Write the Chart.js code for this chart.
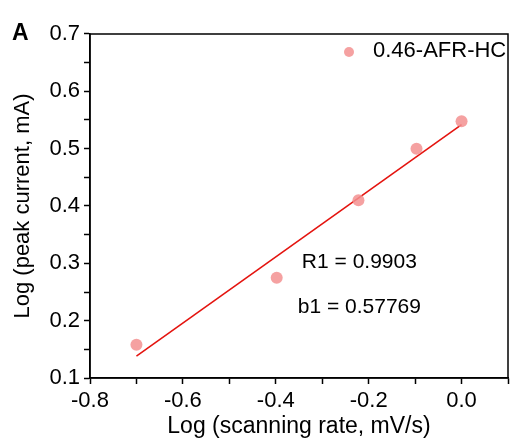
<!DOCTYPE html>
<html>
<head>
<meta charset="utf-8">
<script src="https://cdn.jsdelivr.net/npm/chart.js@4.4.0/dist/chart.umd.min.js"></script>
<style>
  html, body { margin: 0; padding: 0; background: #fff; }
</style>
</head>
<body>
<canvas id="chart" width="514" height="440"></canvas>
<script>
// data
const scanRate = [-0.70, -0.398, -0.222, -0.097, 0.0];     // Log (scanning rate)
const peakCurrent = [0.158, 0.275, 0.410, 0.500, 0.548];   // Log (peak current)
const fitX = [-0.70, 0.0];
const fitY = [0.138, 0.542];
const seriesName = '0.46-AFR-HC';
const notes = ['R1 = 0.9903', 'b1 = 0.57769'];
const xTicks = [-0.8, -0.6, -0.4, -0.2, 0.0];
const yTicks = [0.1, 0.2, 0.3, 0.4, 0.5, 0.6, 0.7];

const FONT = "'Liberation Sans', Arial, sans-serif";
const pink = 'rgba(243, 145, 145, 0.85)';

// frame, legend, notes and panel letter
const extras = {
    id: 'extras',
    afterDraw(chart) {
        const { ctx, chartArea: a, scales } = chart;
        ctx.save();
        ctx.strokeStyle = '#000';
        ctx.lineWidth = 1.5;
        ctx.strokeRect(a.left, a.top, a.right - a.left, a.bottom - a.top);

        // legend
        ctx.fillStyle = pink;
        ctx.beginPath();
        ctx.arc(349, 52, 5, 0, Math.PI * 2);
        ctx.fill();
        ctx.fillStyle = '#000';
        ctx.font = '22px ' + FONT;
        ctx.textBaseline = 'middle';
        ctx.textAlign = 'left';
        ctx.fillText(seriesName, 373, 51);

        // fit notes
        ctx.font = '21px ' + FONT;
        ctx.textAlign = 'center';
        ctx.fillText(notes[0], scales.x.getPixelForValue(-0.22), scales.y.getPixelForValue(0.302));
        ctx.fillText(notes[1], scales.x.getPixelForValue(-0.22), scales.y.getPixelForValue(0.2235));

        // panel letter
        ctx.font = 'bold 23px ' + FONT;
        ctx.textAlign = 'left';
        ctx.textBaseline = 'alphabetic';
        ctx.fillText('A', 12, 40);
        ctx.restore();
    }
};

new Chart(document.getElementById('chart'), {
    type: 'scatter',
    data: {
        datasets: [{
            label: seriesName,
            data: scanRate.map((x, i) => ({ x: x, y: peakCurrent[i] })),
            backgroundColor: pink,
            borderWidth: 0,
            pointRadius: 6,
            order: 1
        }, {
            label: 'fit',
            type: 'line',
            data: fitX.map((x, i) => ({ x: x, y: fitY[i] })),
            borderColor: '#e4140f',
            borderWidth: 1.6,
            pointRadius: 0,
            fill: false,
            order: 2
        }]
    },
    options: {
        responsive: false,
        animation: false,
        layout: { padding: { top: 34, right: 1, left: 0, bottom: 0 } },
        plugins: { legend: { display: false }, tooltip: { enabled: false } },
        scales: {
            x: {
                type: 'linear',
                min: -0.8, max: 0.1,
                afterBuildTicks: s => { s.ticks = [-0.8, -0.7, -0.6, -0.5, -0.4, -0.3, -0.2, -0.1, 0.0, 0.1].map(v => ({ value: v })); },
                afterFit: s => { s.height = 62; },
                ticks: {
                    color: '#000',
                    font: { family: FONT, size: 22 },
                    padding: 4,
                    maxRotation: 0,
                    autoSkip: false,
                    callback: v => xTicks.some(t => Math.abs(t - v) < 1e-6) ? v.toFixed(1) : ''
                },
                grid: { drawOnChartArea: false, drawTicks: true, tickLength: 6, color: '#000', tickWidth: 1.5 },
                border: { color: '#000', width: 1.5 },
                title: {
                    display: true,
                    text: 'Log (scanning rate, mV/s)',
                    color: '#000',
                    font: { family: FONT, size: 23 },
                    padding: { top: 0, bottom: 0 }
                }
            },
            y: {
                min: 0.1, max: 0.7,
                afterBuildTicks: s => {
                    const t = [];
                    for (let i = 0; i <= 12; i++) t.push({ value: 0.1 + i * 0.05 });
                    s.ticks = t;
                },
                afterFit: s => { s.width = 90; },
                ticks: {
                    color: '#000',
                    font: { family: FONT, size: 22 },
                    padding: 4,
                    autoSkip: false,
                    callback: v => yTicks.some(t => Math.abs(t - v) < 1e-6) ? v.toFixed(1) : ''
                },
                grid: { drawOnChartArea: false, drawTicks: true, tickLength: 6, color: '#000', tickWidth: 1.5 },
                border: { color: '#000', width: 1.5 },
                title: {
                    display: true,
                    text: 'Log (peak current, mA)',
                    color: '#000',
                    font: { family: FONT, size: 22 },
                    padding: { top: 10, bottom: 0 }
                }
            }
        }
    },
    plugins: [extras]
});
</script>
</body>
</html>
